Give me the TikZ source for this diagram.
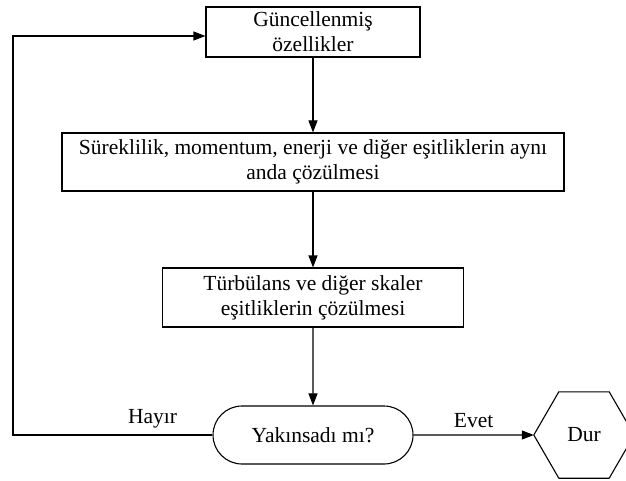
\documentclass[tikz,border=0pt]{standalone}
\usepackage{fontspec}
\setmainfont{Liberation Serif}
\usetikzlibrary{shapes.geometric,shapes.misc,arrows.meta,calc}
\begin{document}
\begin{tikzpicture}[x=1pt,y=-1pt,
  txt/.style={font=\fontsize{21.5}{25}\selectfont},
  box/.style={draw,line width=1.1pt,rectangle,minimum width=#1,align=center,inner sep=0pt,txt},
  conn/.style={line width=1.1pt,-{Triangle[length=12pt,width=9pt]}}]
\useasboundingbox (0,0) rectangle (626,481);
\node[box=214pt,minimum height=50pt] (b1) at (313,32) {Güncellenmiş\\özellikler};
\node[box=502pt,minimum height=58pt] (b2) at (313,162) {Süreklilik, momentum, enerji ve diğer eşitliklerin aynı\\anda çözülmesi};
\node[box=301pt,minimum height=59pt] (b3) at (313,297.5) {Türbülans ve diğer skaler\\eşitliklerin çözülmesi};
\node[draw,line width=1.1pt,rounded rectangle,minimum width=200pt,minimum height=58pt,inner sep=0pt,txt] (d) at (313,435) {Yakınsadı mı?};
\node[minimum width=100pt,minimum height=86pt,inner sep=0pt,txt] (s) at (584,435) {Dur};
\draw[line width=1.1pt,line join=round] (s.west) -- ($(s.north west)+(25,0)$) -- ($(s.north east)+(-25,0)$) -- (s.east) -- ($(s.south east)+(-25,0)$) -- ($(s.south west)+(25,0)$) -- cycle;
\coordinate (c1) at (13,435);
\coordinate (c2) at (13,36);
\draw[conn] (b1) -- (b2);
\draw[conn] (b2) -- (b3);
\draw[conn] (b3) -- (d);
\draw[conn] (d) -- node[txt,above=3pt]{Evet} (s.west);
\draw[conn] (d) -- node[txt,above=3pt,pos=0.3]{Hayır} (c1) -- (c2) -- (c2 -| b1.west);
\end{tikzpicture}
\end{document}
